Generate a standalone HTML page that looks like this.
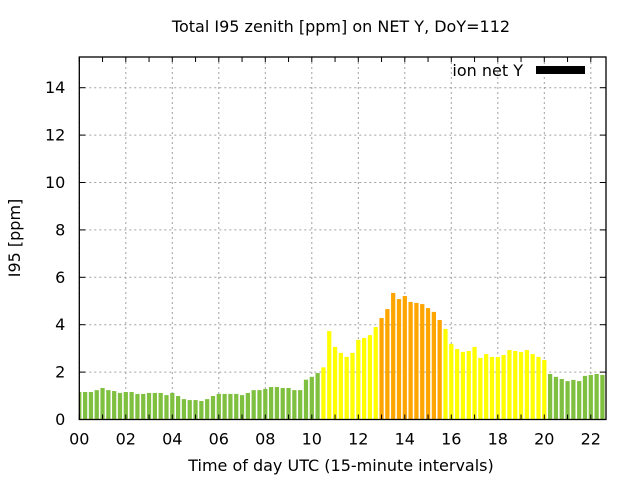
<!DOCTYPE html>
<html><head><meta charset="utf-8"><style>
body{margin:0;background:#fff;}
svg text{font-family:"DejaVu Sans","Liberation Sans",sans-serif;fill:#000;}
</style></head><body>
<svg id="chart" width="640" height="480" viewBox="0 0 640 480" xmlns="http://www.w3.org/2000/svg">
<rect x="0" y="0" width="640" height="480" fill="#fff"/>
<text x="341" y="32" font-size="16" text-anchor="middle">Total I95 zenith [ppm] on NET Y, DoY=112</text>
<g id="grid"></g>
<g id="bars"></g>
<g id="axes"></g>
<text x="341" y="471" font-size="16" text-anchor="middle">Time of day UTC (15-minute intervals)</text>
<text x="0" y="0" font-size="16" text-anchor="middle" transform="translate(20,238) rotate(-90)">I95 [ppm]</text>
<g>
<text x="523" y="76" font-size="16" text-anchor="end">ion net Y</text>
<rect x="536" y="66" width="49" height="8" fill="#000"/>
</g>
</svg>
<script>
const values = [1.16,1.16,1.16,1.24,1.33,1.24,1.2,1.12,1.16,1.16,1.08,1.08,1.12,1.12,1.12,1.03,1.12,0.99,0.86,0.82,0.82,0.78,0.86,0.99,
1.08,1.08,1.08,1.08,1.03,1.12,1.24,1.24,1.29,1.37,1.37,1.33,1.33,1.24,1.24,1.68,1.8,1.96,
2.2,3.73,3.06,2.81,2.64,2.81,3.36,3.44,3.56,3.9,
4.28,4.66,5.34,5.08,5.21,4.96,4.92,4.87,4.7,4.54,4.2,
3.82,3.19,2.97,2.85,2.89,3.06,2.6,2.76,2.64,2.64,2.72,2.93,2.89,2.85,2.93,2.76,2.64,2.51,
1.92,1.8,1.71,1.62,1.67,1.62,1.84,1.88,1.92,1.88,1.88];
const xTickLabels = ["00","02","04","06","08","10","12","14","16","18","20","22"];
const yTickLabels = ["0","2","4","6","8","10","12","14"];
const thresholds = [2,4];
const L=79.3,R=606,T=57,B=419.5;
const xMax=(R-L)/23.25, yMax=(B-T)/23.7;
const xs=h=>L+h/xMax*(R-L);
const ys=v=>B-v/yMax*(B-T);
const NS="http://www.w3.org/2000/svg";
function mk(tag,attrs,parent){const e=document.createElementNS(NS,tag);for(const k in attrs)e.setAttribute(k,attrs[k]);parent.appendChild(e);return e;}
const grid=document.getElementById('grid'),bars=document.getElementById('bars'),axes=document.getElementById('axes');
const defs=mk('defs',{},document.getElementById('chart'));
const cp=mk('clipPath',{id:'pc'},defs);mk('rect',{x:L,y:T,width:R-L,height:B-T},cp);
bars.setAttribute('clip-path','url(#pc)');
xTickLabels.forEach(lab=>{
  const x=xs(parseInt(lab,10));
  const g=mk('line',{x1:x,x2:x,y1:T,y2:B,stroke:'#a0a0a0','stroke-dasharray':'2,3','stroke-width':1},grid);
  
  
  const t=mk('text',{x:x,y:B+25,'font-size':16,'text-anchor':'middle'},axes);
  t.textContent=lab;
  
  
});
for(let h=0;h<=22;h++){const x=xs(h);
  const a=mk('line',{x1:x,x2:x,y1:B,y2:B-5,stroke:'#000'},axes);
  
  
  const b=mk('line',{x1:x,x2:x,y1:T,y2:T+5,stroke:'#000'},axes);
  
  }
yTickLabels.forEach(lab=>{
  const y=ys(parseFloat(lab));
  if(+lab>0){const g=mk('line',{x1:L,x2:R,y1:y,y2:y,stroke:'#a0a0a0','stroke-dasharray':'2,3','stroke-width':1},grid);
  
  }
  const a=mk('line',{x1:L,x2:L+6,y1:y,y2:y,stroke:'#000'},axes);
  
  
  const b=mk('line',{x1:R,x2:R-6,y1:y,y2:y,stroke:'#000'},axes);
  
  
  const t=mk('text',{x:L-14,y:y+5.5,'font-size':16,'text-anchor':'end'},axes);
  t.textContent=lab;
  
  
});
const step=xs(0.25)-xs(0), bw=step*0.73;
values.forEach((v,i)=>{
  const x=xs(i*0.25);
  const c=v<thresholds[0]?'#80c040':(v<thresholds[1]?'#ffff00':'#ffa500');
  const r=mk('rect',{x:x-bw/2,y:ys(v),width:bw,height:B-ys(v),fill:c},bars);
  
  
});
const fr=mk('rect',{x:L,y:T,width:R-L,height:B-T,fill:'none',stroke:'#000','stroke-width':1.3},axes);


</script>
</body></html>
